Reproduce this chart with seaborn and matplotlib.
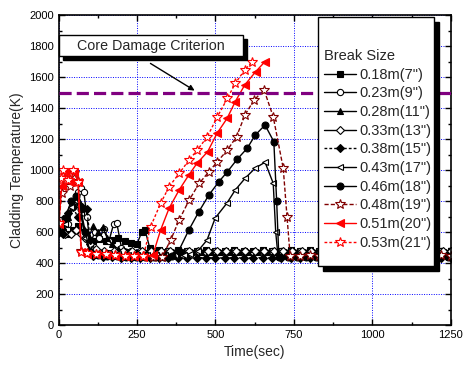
import matplotlib
matplotlib.use("Agg")
import matplotlib.pyplot as plt
import pandas as pd
import seaborn as sns
from matplotlib.lines import Line2D
from matplotlib.patches import Rectangle
from matplotlib.ticker import MultipleLocator

# ---------------- data ----------------
break_labels = ['0.18m(7")', '0.23m(9")', '0.28m(11")', '0.33m(13")', '0.38m(15")',
                '0.43m(17")', '0.46m(18")', '0.48m(19")', '0.51m(20")', '0.53m(21")']

t18 = [0, 15, 30, 45, 60, 75, 90, 110, 130, 150, 170, 190, 210, 230, 250, 265, 275, 290,
       320, 350, 380, 410, 440, 470, 500, 530, 560, 590, 620, 650, 680, 710, 740, 770, 800,
       830, 860, 890, 920, 950, 980, 1010, 1040, 1070, 1100, 1130, 1160, 1190, 1220, 1250]
k18 = [620, 600, 590, 610, 640, 600, 560, 545, 555, 540, 550, 560, 545, 530, 525, 600, 615, 500,
       485, 480, 482, 478, 480, 483, 480, 478, 482, 480, 479, 481, 480, 478, 483, 480, 482,
       479, 480, 481, 478, 480, 482, 480, 479, 481, 480, 478, 480, 482, 479, 480]

t23 = [0, 15, 30, 45, 60, 70, 80, 90, 100, 115, 130, 145, 160, 175, 185, 200,
       230, 260, 290, 320, 350, 380, 410, 440, 470, 500, 530, 560, 590, 620, 650, 680, 710,
       740, 770, 800, 830, 860, 890, 920, 950, 980, 1010, 1040, 1070, 1100, 1130, 1160, 1190,
       1220, 1250]
k23 = [610, 600, 650, 760, 860, 885, 860, 700, 520, 600, 560, 620, 540, 650, 660, 500,
       480, 476, 478, 474, 477, 475, 478, 476, 474, 477, 475, 476, 478, 474, 476, 477, 475,
       478, 476, 474, 477, 475, 476, 478, 474, 476, 477, 475, 478, 476, 474, 477, 475, 476,
       477]

t28 = [0, 15, 30, 45, 55, 65, 80, 95, 110, 125, 140, 155, 170, 190,
       215, 245, 275, 305, 335, 365, 395, 425, 455, 485, 515, 545, 575, 605, 635, 665, 695,
       725, 755, 785, 815, 845, 875, 905, 935, 965, 995, 1025, 1055, 1085, 1115, 1145, 1175,
       1205, 1235]
k28 = [600, 620, 700, 790, 830, 800, 620, 560, 640, 600, 630, 560, 520, 490,
       472, 470, 468, 471, 469, 470, 472, 468, 470, 471, 469, 470, 472, 468, 470, 471, 469,
       470, 472, 468, 470, 471, 469, 470, 472, 468, 470, 471, 469, 470, 472, 468, 470,
       471, 469]

t33 = [0, 20, 40, 55, 70, 85, 100, 120,
       145, 175, 205, 235, 265, 295, 325, 355, 385, 415, 445, 475, 505, 535, 565, 595, 625,
       655, 685, 715, 745, 775, 805, 835, 865, 895, 925, 955, 985, 1015, 1045, 1075, 1105,
       1135, 1165, 1195, 1225, 1250]
k33 = [600, 590, 585, 610, 590, 560, 520, 490,
       480, 478, 479, 477, 478, 480, 477, 478, 479, 477, 478, 480, 477, 478, 479, 477, 478,
       480, 477, 478, 479, 477, 478, 480, 477, 478, 479, 477, 478, 480, 477, 478, 479,
       477, 478, 480, 477, 478]

t38 = [0, 15, 30, 45, 60, 75, 90, 100,
       110, 140, 170, 200, 230, 260, 290, 320, 350, 380, 410, 440, 470, 500, 530, 560, 590,
       620, 650, 680, 710, 740, 770, 800, 830, 860, 890, 920, 950, 980, 1010, 1040, 1070,
       1100, 1130, 1160, 1190, 1220, 1250]
k38 = [600, 590, 720, 760, 700, 760, 750, 550,
       445, 440, 436, 434, 435, 433, 434, 432, 433, 434, 432, 433, 435, 432, 433, 434, 432,
       433, 435, 432, 433, 434, 432, 433, 435, 432, 433, 434, 432, 433, 435, 432, 433,
       434, 432, 433, 435, 432, 433]

t43 = [0, 20, 40, 55, 70, 85, 100,
       130, 160, 190, 220, 250, 280, 310, 340, 370, 400, 420,
       445, 473, 499, 536, 563, 595, 627, 658, 684, 692, 700,
       725, 755, 785, 815, 845, 875, 905, 935, 965, 995, 1025, 1055, 1085, 1115, 1145, 1175,
       1205, 1235]
k43 = [610, 650, 760, 800, 720, 560, 470,
       462, 458, 455, 452, 450, 450, 452, 450, 450, 452, 460,
       480, 548, 690, 785, 871, 948, 1013, 1050, 915, 600, 430,
       445, 447, 444, 446, 445, 447, 444, 446, 445, 447, 444, 446, 445, 447, 444, 446,
       445, 447]

t46 = [0, 20, 40, 55, 70, 85, 100,
       125, 155, 185, 215, 245, 275, 305, 335, 360,
       383, 415, 447, 479, 511, 538, 569, 601, 627, 658, 686, 695, 702,
       730, 760, 790, 820, 850, 880, 910, 940, 970, 1000, 1030, 1060, 1090, 1120, 1150, 1180,
       1210, 1240]
k46 = [600, 690, 800, 830, 750, 600, 470,
       450, 445, 442, 440, 438, 440, 438, 440, 442,
       480, 613, 731, 839, 925, 989, 1069, 1140, 1226, 1290, 1183, 800, 440,
       438, 440, 437, 439, 438, 440, 437, 439, 438, 440, 437, 439, 438, 440, 437, 439,
       438, 440]

t48 = [0, 10, 20, 35, 50, 62, 72,
       90, 120, 150, 180, 210, 240, 270, 300,
       330, 357, 384, 416, 448, 479, 506, 538, 567, 594, 623, 655, 684, 716, 728, 738,
       770, 800, 830, 860, 890, 920, 950, 980, 1010, 1040, 1070, 1100, 1130, 1160, 1190,
       1220, 1250]
k48 = [660, 850, 950, 900, 980, 930, 480,
       462, 458, 455, 450, 447, 445, 442, 440,
       441, 548, 677, 806, 914, 989, 1054, 1129, 1215, 1355, 1452, 1516, 1344, 1011, 700, 445,
       448, 450, 447, 449, 448, 450, 447, 449, 448, 450, 447, 449, 448, 450, 447,
       449, 448]

t51 = [0, 10, 20, 35, 50, 62, 72,
       90, 120, 150, 180, 210, 240, 270, 300,
       325, 352, 384, 415, 441, 475, 505, 537, 563, 593, 628, 658]
k51 = [650, 900, 990, 920, 990, 920, 470,
       460, 456, 452, 448, 445, 442, 440, 450,
       613, 753, 871, 968, 1043, 1118, 1237, 1333, 1441, 1548, 1634, 1700]

t53 = [0, 8, 15, 31, 47, 62, 71,
       90, 120, 150, 180, 210, 240, 270,
       293, 325, 352, 384, 416, 442, 474, 506, 538, 563, 593, 617]
k53 = [656, 950, 1000, 935, 1000, 925, 473,
       462, 458, 455, 450, 446, 443, 445,
       634, 785, 892, 978, 1065, 1129, 1215, 1344, 1462, 1559, 1645, 1699]

times = [t18, t23, t28, t33, t38, t43, t46, t48, t51, t53]
temps = [k18, k23, k28, k33, k38, k43, k46, k48, k51, k53]

criterion = 1500
criterion_label = "Core Damage Criterion"

# ---------------- styles ----------------
DK = "#800000"
styles = [
    dict(color="black", marker="s", mfc="black", ls="-", ms=4.5),
    dict(color="black", marker="o", mfc="white", ls="-", ms=4.5),
    dict(color="black", marker="^", mfc="black", ls="-", ms=5),
    dict(color="black", marker="D", mfc="white", ls="-", ms=4),
    dict(color="black", marker="D", mfc="black", ls=(0, (2, 1.5)), ms=4),
    dict(color="black", marker="<", mfc="white", ls="-", ms=5),
    dict(color="black", marker="o", mfc="black", ls="-", ms=5),
    dict(color=DK, marker="*", mfc="white", ls=(0, (3, 1.5)), ms=7),
    dict(color="red", marker="<", mfc="red", ls="-", ms=5.5),
    dict(color="red", marker="*", mfc="white", ls=(0, (2, 1.5)), ms=7),
]

sns.set_theme(style="ticks")
plt.rcParams['font.family'] = ['Liberation Sans', 'DejaVu Sans']

fig = plt.figure(figsize=(4.64, 3.67), dpi=100)
ax = fig.add_axes([58.7 / 464, 1 - 325 / 367, 392 / 464, 310 / 367])

for t, k, lab, st in zip(times, temps, break_labels, styles):
    df = pd.DataFrame({"Time": t, "Temp": k})
    sns.lineplot(data=df, x="Time", y="Temp", ax=ax, sort=False, estimator=None,
                 color=st["color"], marker=st["marker"], markersize=st["ms"],
                 markerfacecolor=st["mfc"], markeredgecolor=st["color"],
                 markeredgewidth=0.8, linestyle=st["ls"], linewidth=1.0, legend=False)

ax.axhline(criterion, color="#800080", lw=2.3, dashes=(3.8, 1.6), zorder=3)

ax.set_xlim(0, 1250)
ax.set_ylim(0, 2000)
ax.xaxis.set_major_locator(MultipleLocator(250))
ax.xaxis.set_minor_locator(MultipleLocator(125))
ax.yaxis.set_major_locator(MultipleLocator(200))
ax.yaxis.set_minor_locator(MultipleLocator(100))
ax.grid(True, which="major", color="blue", linestyle=(0, (1, 1.5)), linewidth=0.7)
ax.tick_params(which="both", direction="in", top=True, right=True, colors="black",
               labelsize=8, width=1)
ax.tick_params(which="major", length=4)
ax.tick_params(which="minor", length=2.5)
for s in ax.spines.values():
    s.set_color("black")
    s.set_linewidth(1.2)
ax.set_xlabel("Time(sec)", fontsize=10, labelpad=4)
ax.set_ylabel("Cladding Temperature(K)", fontsize=10, labelpad=4)

# Core damage annotation box with shadow
bx0, bx1, by0, by1 = 0.0, 0.470, 0.868, 0.935
ax.add_patch(Rectangle((bx0 + 0.010, by0 - 0.013), bx1 - bx0, by1 - by0, transform=ax.transAxes,
                       facecolor="black", edgecolor="black", zorder=6, clip_on=False))
ax.add_patch(Rectangle((bx0, by0), bx1 - bx0, by1 - by0, transform=ax.transAxes,
                       facecolor="white", edgecolor="black", lw=1, zorder=7, clip_on=False))
ax.text((bx0 + bx1) / 2, (by0 + by1) / 2, criterion_label, transform=ax.transAxes,
        ha="center", va="center", fontsize=10.3, zorder=8)
ax.annotate("", xy=(441, 1503), xytext=(285, 1697),
            arrowprops=dict(arrowstyle="-|>", color="black", lw=1, mutation_scale=8),
            zorder=8)

# Legend box with shadow
lx0, lx1, ly0, ly1 = 0.6615, 0.9574, 0.1903, 0.9935
ax.add_patch(Rectangle((lx0 + 0.0115, ly0 - 0.015), lx1 - lx0, ly1 - ly0, transform=ax.transAxes,
                       facecolor="black", edgecolor="black", zorder=6, clip_on=False))
ax.add_patch(Rectangle((lx0, ly0), lx1 - lx0, ly1 - ly0, transform=ax.transAxes,
                       facecolor="white", edgecolor="black", lw=1, zorder=7, clip_on=False))
handles = [Line2D([], [], color=st["color"], marker=st["marker"], markersize=st["ms"],
                  markerfacecolor=st["mfc"], markeredgecolor=st["color"], markeredgewidth=0.8,
                  linestyle=st["ls"], linewidth=1.0) for st in styles]
leg = ax.legend(handles, break_labels, title="Break Size", loc="upper left",
                bbox_to_anchor=(0.677, 0.890), borderaxespad=0, borderpad=0,
                frameon=False, fontsize=10.5, title_fontsize=10.5, labelspacing=0.32,
                handlelength=2.2, handletextpad=0.25, alignment="left")
leg.set_zorder(9)

fig.savefig("out.png", dpi=100)
